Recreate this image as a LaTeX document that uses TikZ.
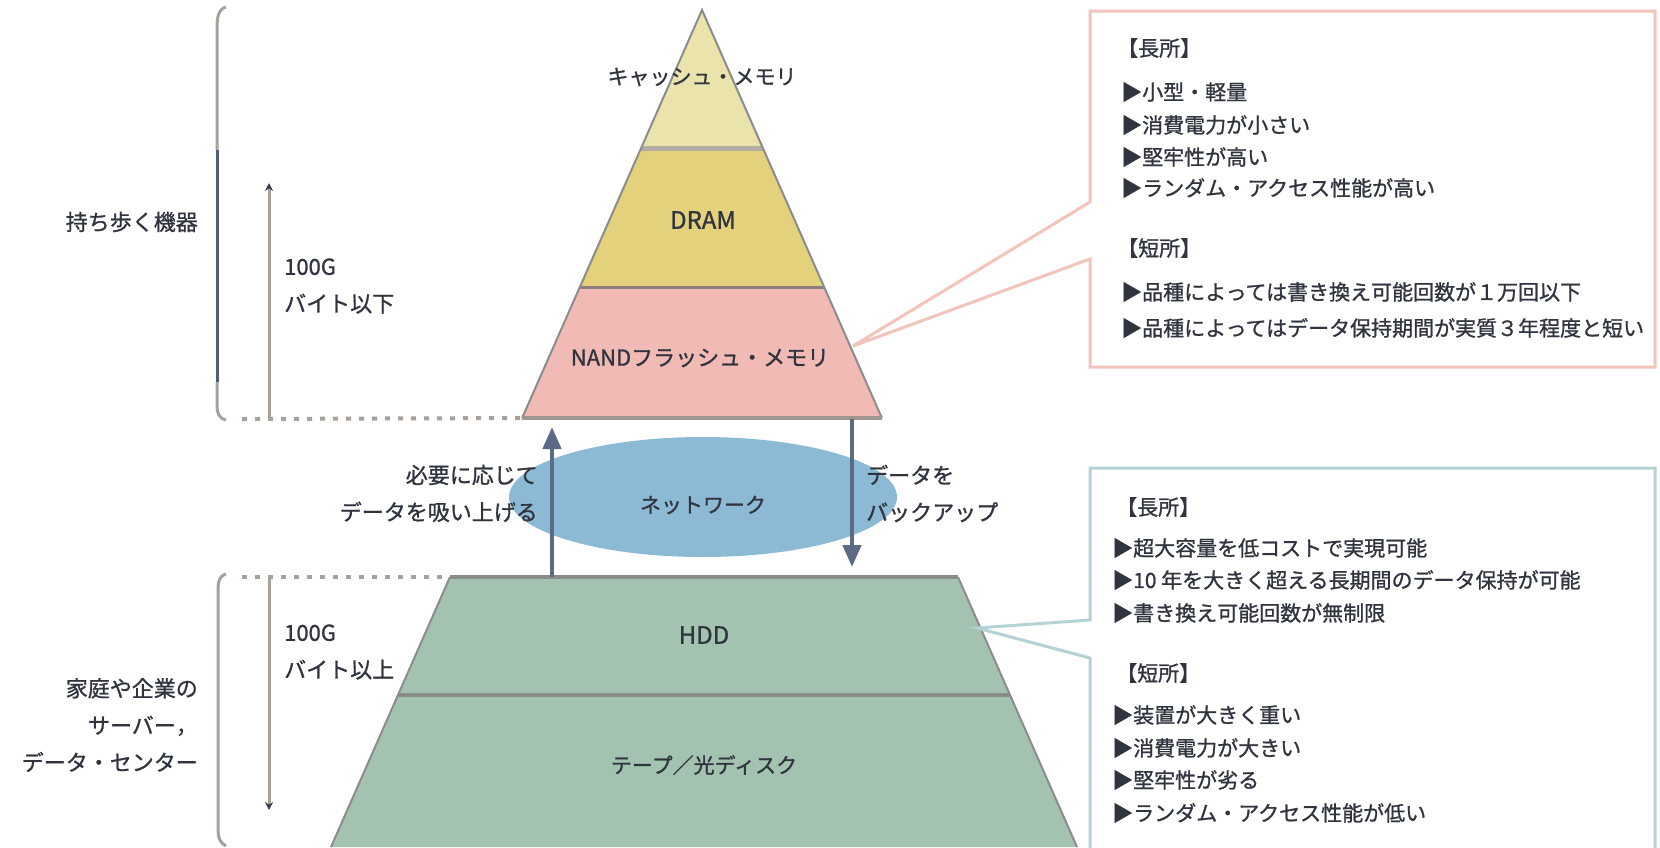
\documentclass[tikz,border=0pt]{standalone}
\usepackage{fontspec}
\newfontfamily\jp[FakeBold=1]{Noto Sans CJK JP}
\usetikzlibrary{shapes.geometric,arrows.meta}

\definecolor{cacheY}{HTML}{EAE3AB}
\definecolor{dramY}{HTML}{E4D17C}
\definecolor{nandP}{HTML}{F2BAB4}
\definecolor{hddG}{HTML}{A3C3B0}
\definecolor{edgeG}{HTML}{8C8C8C}
\definecolor{netB}{HTML}{8CBAD5}
\definecolor{arrB}{HTML}{5B6B86}
\definecolor{txt}{HTML}{30343F}
\definecolor{pinkL}{HTML}{F3C4BB}
\definecolor{tealL}{HTML}{B5D3D6}
\definecolor{brk}{HTML}{A8A09A}
\definecolor{brkB}{HTML}{4F5F7A}
\definecolor{divA}{HTML}{B5AAA4}
\definecolor{divB}{HTML}{8C7F80}
\definecolor{divC}{HTML}{A1958F}
\definecolor{divD}{HTML}{8A8C88}
\definecolor{tipD}{HTML}{3A3F4F}

\tikzset{
  lbl/.style={font=\jp\fontsize{21}{21}\selectfont, text=txt, inner sep=0pt},
  biglbl/.style={font=\jp\fontsize{24}{24}\selectfont, text=txt, inner sep=0pt},
  side/.style={font=\jp\fontsize{22}{37}\selectfont, text=txt, inner sep=0pt},
  boxtxt/.style={font=\jp\fontsize{21}{21}\selectfont, text=txt, inner sep=0pt, anchor=west},
  edge/.style={draw=edgeG, line width=2pt},
  dots/.style={draw=brk, line width=4pt, dash pattern=on 5pt off 8pt},
  netarrow/.style={draw=arrB, line width=4.5pt, -{Triangle[length=22pt,width=18pt]}},
  thinarrow/.style={draw=brk, line width=3pt, -{Stealth[length=8pt,width=8pt,color=tipD]}},
  bracket/.style={draw=brk, line width=3pt},
}

\begin{document}
\begin{tikzpicture}[x=1pt,y=-1pt]
\useasboundingbox (0,0) rectangle (1660,847);
\clip (0,0) rectangle (1660,847);
\fill[white] (0,0) rectangle (1660,847);

% ---------- top pyramid ----------
\coordinate (apex) at (702,10);
\coordinate (c1L) at (641.4,147);
\coordinate (c1R) at (762.6,147);
\coordinate (c2L) at (579.6,287);
\coordinate (c2R) at (824.4,287);
\coordinate (c3L) at (522.1,418);
\coordinate (c3R) at (881.9,418);

\fill[cacheY] (apex) -- (c1R) -- (c1L) -- cycle;
\fill[dramY] (c1L) -- (c1R) -- (c2R) -- (c2L) -- cycle;
\fill[nandP] (c2L) -- (c2R) -- (c3R) -- (c3L) -- cycle;
\begin{scope}
  \clip (apex) -- (c3R) -- (c3L) -- cycle;
  \draw[divA, line width=5pt] ([yshift=-1.5pt]c1L) -- ([yshift=-1.5pt]c1R);
  \draw[divB, line width=3pt] (c2L) -- (c2R);
\end{scope}
\draw[edge] (c3L) -- (apex) -- (c3R);
\draw[divC, line width=4pt] (c3L) -- (c3R);

% ---------- bottom trapezoid ----------
\coordinate (h0L) at (450,577);
\coordinate (h0R) at (958,577);
\coordinate (h1L) at (398,695);
\coordinate (h1R) at (1010,695);
\coordinate (h2L) at (331,847);
\coordinate (h2R) at (1077,847);
\fill[hddG] (h0L) -- (h0R) -- (h2R) -- (h2L) -- cycle;
\draw[edge] (h2L) -- (h0L);
\draw[edge] (h2R) -- (h0R);
\draw[divD, line width=3.5pt] (h0L) -- (h0R);
\draw[divD, line width=4pt] (h1L) -- (h1R);

% ---------- layer labels ----------
\node[lbl] (cache) at (702,77) {キャッシュ・メモリ};
\node[biglbl] (dram) at (703,220) {DRAM};
\node[lbl, font=\jp\fontsize{22}{22}\selectfont] (nand) at (700,358) {NANDフラッシュ・メモリ};
\node[biglbl] (hdd) at (704,635) {HDD};
\node[lbl] (tape) at (704,765) {テープ／光ディスク};

% ---------- network ----------
\node[ellipse, fill=netB, minimum width=388pt, minimum height=120pt, inner sep=0pt] (net) at (703,497) {};
\node[lbl] (netlbl) at (703,505) {ネットワーク};

\coordinate (upS) at (552,577);
\coordinate (upE) at (552,419);
\coordinate (dnS) at (852,419);
\coordinate (dnE) at (852,577);
\draw[netarrow, shorten >=8pt] (upS) -- (upE);
\draw[netarrow, shorten >=10pt] (dnS) -- (dnE);

\node[side, anchor=east, align=right] (pull) at (538,493.5) {必要に応じて\\データを吸い上げる};
\node[side, anchor=west, align=left] (back) at (866,493.5) {データを\\バックアップ};

% ---------- left side ----------
\draw[bracket] (226,7) .. controls (219,9) and (217,16) .. (217,28) -- (217,150);
\draw[bracket, draw=brkB] (217,150) -- (217,382);
\draw[bracket] (217,382) -- (217,405) .. controls (217,414) and (219,418) .. (226,420);
\draw[bracket] (226,574) .. controls (219,576) and (218,582) .. (218,592) -- (218,828) .. controls (218,838) and (220,843) .. (226,846);

\coordinate (dTopL) at (242,419);
\coordinate (dBotL) at (242,577);
\draw[dots] (dTopL) -- (c3L);
\draw[dots] (dBotL) -- (h0L);

\coordinate (a1s) at (269,419);
\coordinate (a1e) at (269,183);
\coordinate (a2s) at (269,577);
\coordinate (a2e) at (269,810);
\draw[thinarrow] (a1s) -- (a1e);
\draw[thinarrow] (a2s) -- (a2e);

\node[side, anchor=west, align=left] (cap1) at (284,286) {100G\\バイト以下};
\node[side, anchor=west, align=left] (cap2) at (284,652) {100G\\バイト以上};

\node[side, anchor=east] (mobile) at (198,222) {持ち歩く機器};
\node[side, anchor=east, align=right] (server) at (198,725) {家庭や企業の\\サーバー，\\データ・センター};

% ---------- callouts ----------
\coordinate (nandTip) at (853,346);
\coordinate (hddTip) at (977,628);
\draw[pinkL, line width=3pt, line join=miter] (1090,259) -- (1090,367) -- (1655,367) -- (1655,11) -- (1090,11) -- (1090,202) -- (nandTip) -- cycle;
\draw[tealL, line width=3pt] (1655,852) -- (1655,468) -- (1090,468) -- (1090,620) -- (hddTip) -- (1090,658) -- (1090,852);

\node[boxtxt] (t0) at (1117,48) {【長所】};
\node[boxtxt] (t1) at (1121,92) {▶小型・軽量};
\node[boxtxt] (t2) at (1121,125) {▶消費電力が小さい};
\node[boxtxt] (t3) at (1121,157) {▶堅牢性が高い};
\node[boxtxt] (t4) at (1121,188) {▶ランダム・アクセス性能が高い};
\node[boxtxt] (t5) at (1117,248) {【短所】};
\node[boxtxt] (t6) at (1121,292) {▶品種によっては書き換え可能回数が１万回以下};
\node[boxtxt] (t7) at (1121,328) {▶品種によってはデータ保持期間が実質３年程度と短い};

\node[boxtxt] (b0) at (1116,507) {【長所】};
\node[boxtxt] (b1) at (1112,548) {▶超大容量を低コストで実現可能};
\node[boxtxt] (b2) at (1112,580) {▶10 年を大きく超える長期間のデータ保持が可能};
\node[boxtxt] (b3) at (1112,613) {▶書き換え可能回数が無制限};
\node[boxtxt] (b4) at (1116,673) {【短所】};
\node[boxtxt] (b5) at (1112,715) {▶装置が大きく重い};
\node[boxtxt] (b6) at (1112,748) {▶消費電力が大きい};
\node[boxtxt] (b7) at (1112,780) {▶堅牢性が劣る};
\node[boxtxt] (b8) at (1112,813) {▶ランダム・アクセス性能が低い};
\end{tikzpicture}
\end{document}
